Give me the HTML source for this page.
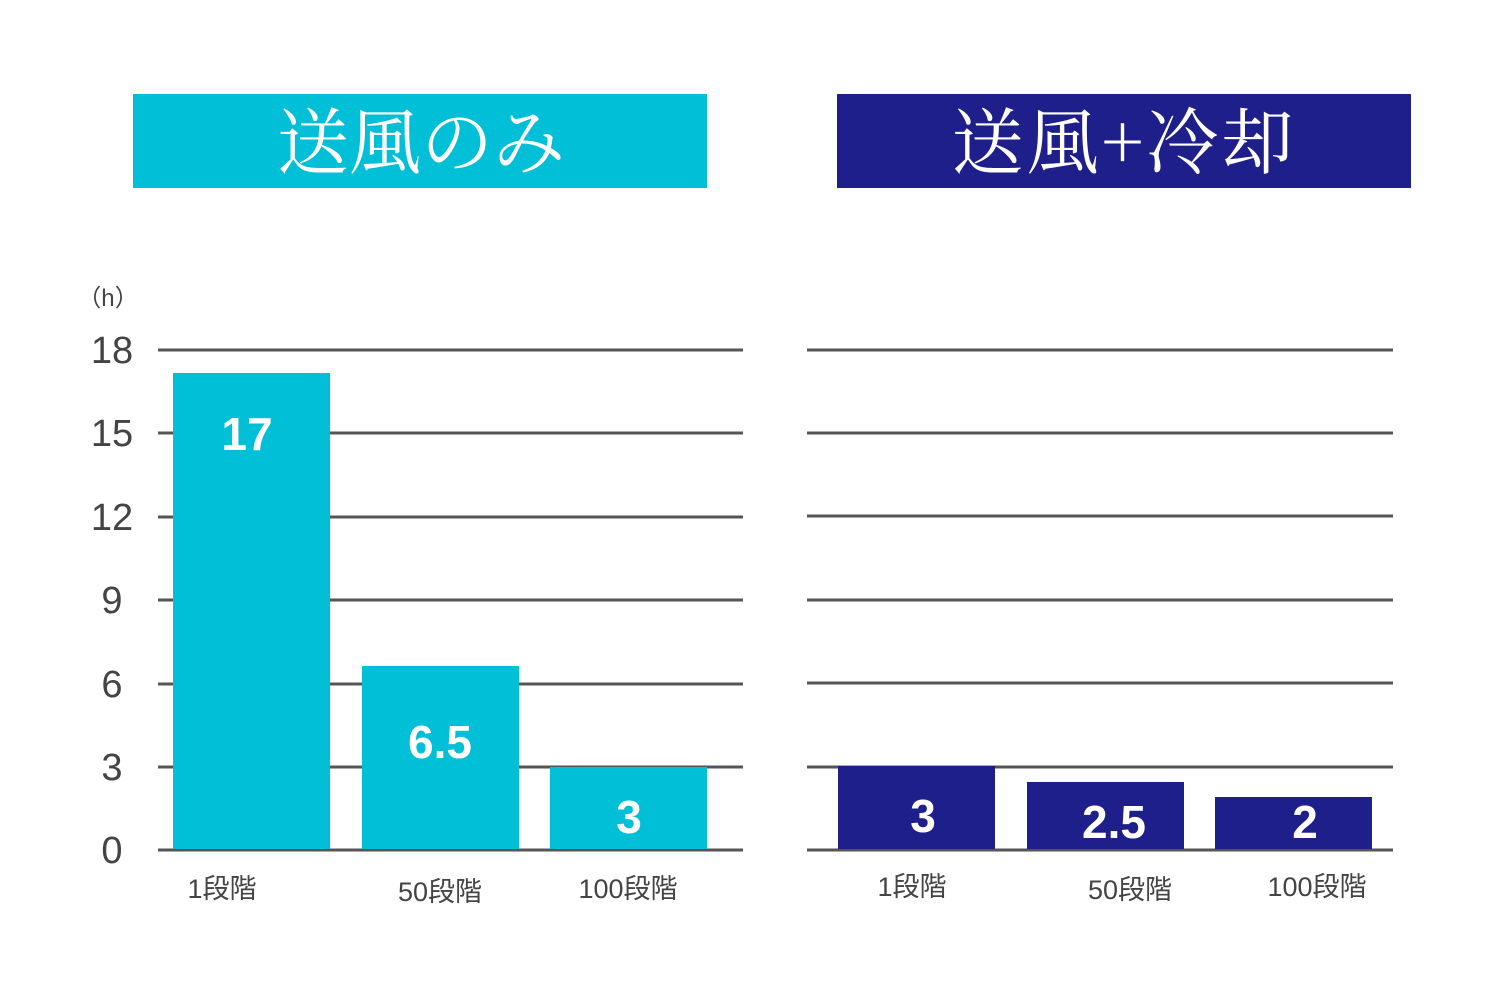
<!DOCTYPE html>
<html><head><meta charset="utf-8"><style>
html,body{margin:0;padding:0;background:#fff;}
svg{display:block;}
.ax{font-family:"Liberation Sans","Noto Sans CJK JP",sans-serif;fill:#444;}
.v{font-family:"Liberation Sans",sans-serif;font-weight:bold;fill:#fff;font-size:46px;text-anchor:middle;}
.t{font-family:"Noto Serif CJK SC","Liberation Serif",serif;fill:#fff;font-size:72px;text-anchor:middle;}
</style></head><body>
<svg width="1500" height="1000" viewBox="0 0 1500 1000">
<rect x="133" y="94" width="574" height="94" fill="#00BFD6"/>
<text class="t" x="421" y="168">送風のみ</text>
<rect x="837" y="94" width="574" height="94" fill="#1E1F8A"/>
<text class="t" x="1124" y="168" letter-spacing="3">送風+冷却</text>
<g stroke="#555" stroke-width="3">
<line x1="158" x2="743" y1="350" y2="350"/><line x1="158" x2="743" y1="433" y2="433"/>
<line x1="158" x2="743" y1="517" y2="517"/><line x1="158" x2="743" y1="600" y2="600"/>
<line x1="158" x2="743" y1="684" y2="684"/><line x1="158" x2="743" y1="767" y2="767"/>
<line x1="158" x2="743" y1="850" y2="850"/>
<line x1="807" x2="1393" y1="350" y2="350"/><line x1="807" x2="1393" y1="433" y2="433"/>
<line x1="807" x2="1393" y1="516" y2="516"/><line x1="807" x2="1393" y1="600" y2="600"/>
<line x1="807" x2="1393" y1="683" y2="683"/><line x1="807" x2="1393" y1="767" y2="767"/>
<line x1="807" x2="1393" y1="850" y2="850"/>
</g>
<g fill="#00BFD6">
<rect x="173" y="373" width="157" height="476"/>
<rect x="362" y="666" width="157" height="183"/>
<rect x="550" y="767" width="157" height="82"/>
</g>
<g fill="#1E1F8A">
<rect x="838" y="766" width="157" height="83"/>
<rect x="1027" y="782" width="157" height="67"/>
<rect x="1215" y="797" width="157" height="52"/>
</g>
<text class="v" x="247" y="450">17</text>
<text class="v" x="440" y="758">6.5</text>
<text class="v" x="629" y="833">3</text>
<text class="v" x="923" y="832">3</text>
<text class="v" x="1114" y="838">2.5</text>
<text class="v" x="1305" y="838">2</text>
<g class="ax" font-size="38" text-anchor="middle">
<text x="112" y="363">18</text><text x="112" y="446">15</text><text x="112" y="530">12</text>
<text x="112" y="613">9</text><text x="112" y="697">6</text><text x="112" y="780">3</text>
<text x="112" y="863">0</text>
</g>
<text class="ax" x="108" y="306" font-size="24" text-anchor="middle">（h）</text>
<g class="ax" font-size="27" text-anchor="middle">
<text x="222" y="898">1段階</text><text x="440" y="901">50段階</text><text x="628" y="898">100段階</text>
<text x="912" y="896">1段階</text><text x="1130" y="899">50段階</text><text x="1317" y="896">100段階</text>
</g>
</svg>
</body></html>
